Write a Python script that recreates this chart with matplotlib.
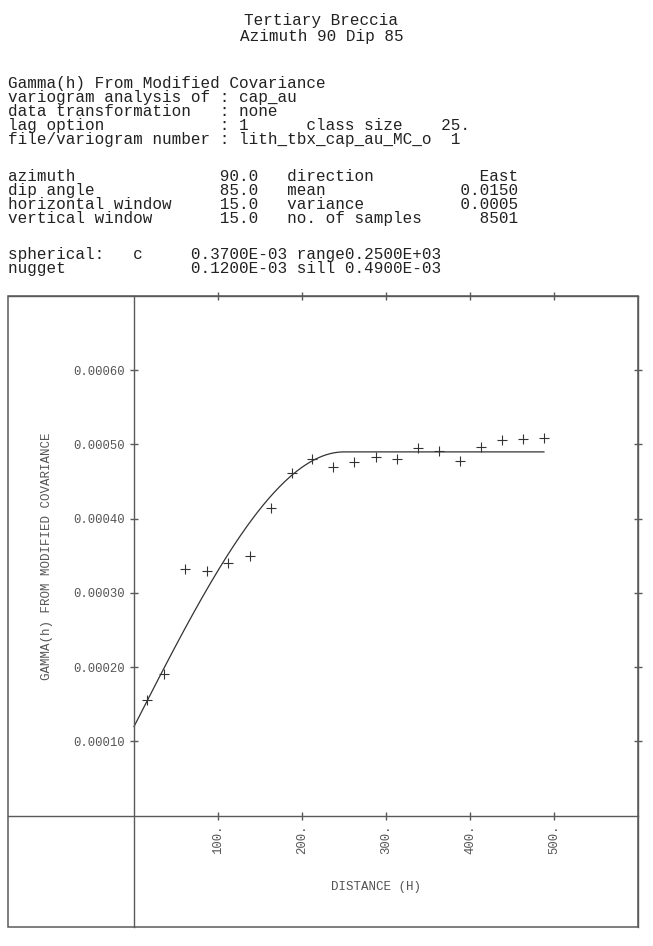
import numpy as np
import matplotlib
matplotlib.use("Agg")
import matplotlib.pyplot as plt
from matplotlib.ticker import FixedLocator, FuncFormatter

# ---------------- data ----------------
title_lines = ["Tertiary Breccia", "Azimuth 90 Dip 85"]
header_block1 = [
    "Gamma(h) From Modified Covariance",
    "variogram analysis of : cap_au",
    "data transformation   : none",
    "lag option            : 1      class size    25.",
    "file/variogram number : lith_tbx_cap_au_MC_o  1",
]
header_block2 = [
    "azimuth               90.0   direction           East",
    "dip angle             85.0   mean              0.0150",
    "horizontal window     15.0   variance          0.0005",
    "vertical window       15.0   no. of samples      8501",
]
header_block3 = [
    "spherical:   c     0.3700E-03 range0.2500E+03",
    "nugget             0.1200E-03 sill 0.4900E-03",
]

lag_distance = [16, 36, 61, 87, 112, 138, 163, 188, 212, 237,
                262, 288, 313, 338, 363, 388, 413, 438, 463, 488]
gamma_values = [0.000156, 0.000191, 0.000332, 0.000329, 0.000340, 0.000350,
                0.000414, 0.000462, 0.000480, 0.000469, 0.000477, 0.000483,
                0.000481, 0.000495, 0.000491, 0.000478, 0.000496, 0.000506,
                0.000508, 0.000509]

model_nugget = 0.00012
model_c = 0.00037
model_range = 250.0
model_hmax = 488.0

x_ticks = [100, 200, 300, 400, 500]
y_ticks = [0.0001, 0.0002, 0.0003, 0.0004, 0.0005, 0.0006]
x_limits = (-150, 600)
y_limits = (-0.00015, 0.0007)

x_label = "DISTANCE (H)"
y_label = "GAMMA(h) FROM MODIFIED COVARIANCE"

# ---------------- figure ----------------
W, H = 653, 946
fig = plt.figure(figsize=(W / 100, H / 100), dpi=100)
mono = "Liberation Mono"
txt_color = "#222222"
gray = "#5a5a5a"
fs_head = 11.5

def fy(px):
    return 1 - px / H

fig.text(321.5 / W, fy(25), title_lines[0], ha="center", va="baseline",
         family=mono, fontsize=fs_head, color=txt_color)
fig.text(321.5 / W, fy(41), title_lines[1], ha="center", va="baseline",
         family=mono, fontsize=fs_head, color=txt_color)

x0 = 8 / W
for i, line in enumerate(header_block1):
    fig.text(x0, fy(88 + 14 * i), line, ha="left", va="baseline",
             family=mono, fontsize=fs_head, color=txt_color)
for i, line in enumerate(header_block2):
    fig.text(x0, fy(181 + 14 * i), line, ha="left", va="baseline",
             family=mono, fontsize=fs_head, color=txt_color)
for i, line in enumerate(header_block3):
    fig.text(x0, fy(259 + 14 * i), line, ha="left", va="baseline",
             family=mono, fontsize=fs_head, color=txt_color)

# plot box
ax = fig.add_axes([8 / W, 1 - 927 / H, 630 / W, 631 / H])
ax.set_xlim(*x_limits)
ax.set_ylim(*y_limits)

ax.patch.set_edgecolor(gray)
ax.patch.set_linewidth(1.1)
ax.spines["left"].set_position(("data", 0))
ax.spines["bottom"].set_position(("data", 0))
for s in ax.spines.values():
    s.set_color(gray)
    s.set_linewidth(1.0)

ax.xaxis.set_major_locator(FixedLocator(x_ticks))
ax.yaxis.set_major_locator(FixedLocator(y_ticks))
ax.xaxis.set_major_formatter(FuncFormatter(lambda v, p: f"{v:.0f}."))
ax.yaxis.set_major_formatter(FuncFormatter(lambda v, p: f"{v:.5f}"))
ax.xaxis.set_ticks_position("both")
ax.yaxis.set_ticks_position("both")
ax.tick_params(direction="inout", length=6, width=1.0, color=gray,
               labelcolor="#555555", labelsize=8.8, pad=3.5,
               labeltop=False, labelright=False)
for lab in ax.get_xticklabels():
    lab.set_rotation(90)
    lab.set_family(mono)
for lab in ax.get_yticklabels():
    lab.set_family(mono)

# model curve (spherical model from printed parameters)
h = np.linspace(0, model_hmax, 300)
hr = np.minimum(h / model_range, 1.0)
g_model = model_nugget + model_c * (1.5 * hr - 0.5 * hr ** 3)
ax.plot(h, g_model, color="#333333", lw=0.9, clip_on=False)

# experimental points
ax.plot(lag_distance, gamma_values, linestyle="none", marker="+",
        markersize=7, markeredgewidth=0.8, color="#333333")

ax.text(288, -0.0000963, x_label, ha="center", va="center", family=mono,
        fontsize=9, color="#555555")
ax.text(-103.6, 0.00035, y_label, ha="center", va="center", rotation=90,
        family=mono, fontsize=9, color="#555555")

fig.savefig("out.png", dpi=100)
